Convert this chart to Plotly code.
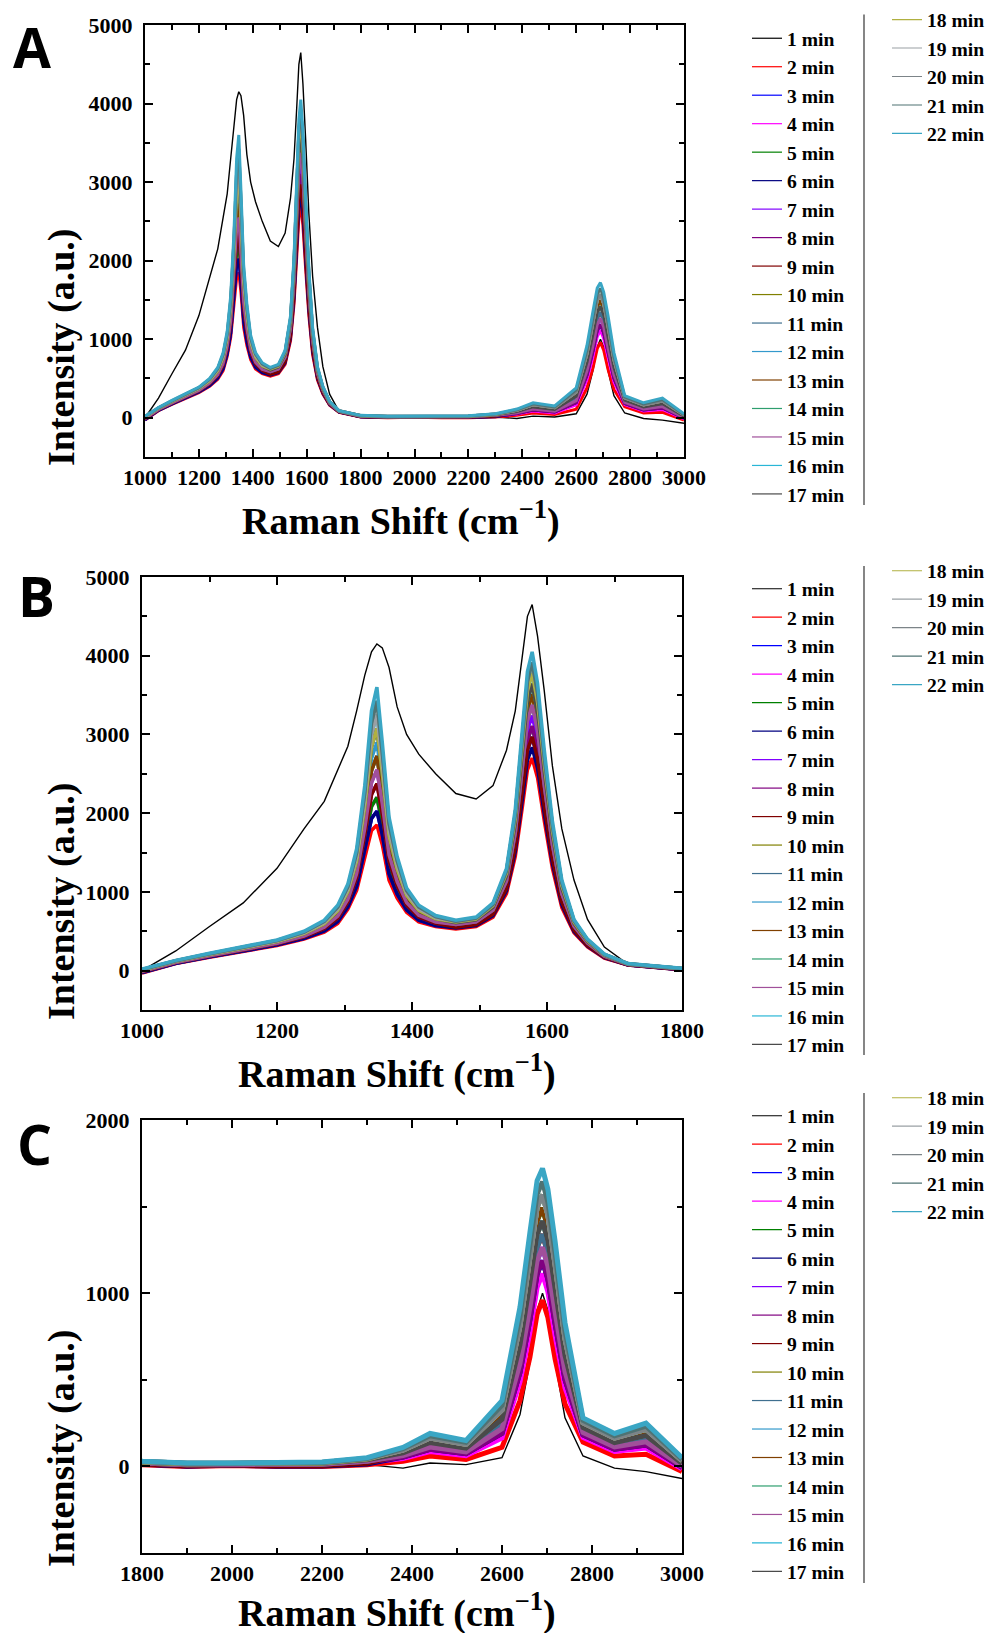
import plotly.graph_objects as go

# ---------------- data ----------------
wavenumber = [1000, 1050, 1100, 1150, 1200, 1240, 1270, 1290, 1305, 1318, 1330, 1340, 1348, 1356, 1366, 1378, 1392, 1410, 1435,
              1465, 1495, 1520, 1540, 1553, 1563, 1571, 1578, 1586, 1596, 1608, 1622, 1640, 1660, 1685, 1720, 1800, 1900, 2000, 2100, 2200, 2300,
              2380, 2440, 2520, 2600, 2640, 2662, 2678, 2690, 2702, 2718, 2740, 2780, 2850, 2920, 3000]

int_01 = [0, 250, 560, 860, 1300, 1800, 2150, 2550, 2850, 3300, 3750, 4050, 4150, 4100, 3850, 3350, 3000, 2750, 2500,
          2250, 2180, 2350, 2800, 3300, 3950, 4500, 4650, 4250, 3550, 2600, 1800, 1150, 650, 300, 80, 10, 20, 20, 10, 20, 10,
          -10, 20, 10, 50, 300, 600, 900, 1000, 900, 600, 280, 60, -10, -30, -70]
int_02 = [-30, 90, 170, 240, 320, 400, 490, 600, 780, 1020, 1450, 1780, 1850, 1600, 1150, 920, 740, 620, 560,
          530, 560, 680, 980, 1450, 2050, 2550, 2700, 2450, 1900, 1300, 800, 480, 300, 160, 70, 10, 0, 5, 0, 0, 10,
          30, 60, 40, 110, 380, 630, 880, 960, 860, 620, 360, 140, 60, 70, -30]
int_03 = [-25, 94, 175, 246, 327, 410, 505, 623, 812, 1073, 1540, 1932, 2025, 1730, 1230, 973, 771, 641, 574,
          552, 584, 716, 1044, 1570, 2240, 2800, 2970, 2690, 2080, 1420, 870, 514, 320, 170, 74, 14, 4, 8, 4, 5, 18,
          54, 99, 73, 191, 542, 846, 1111, 1188, 1082, 824, 501, 182, 99, 124, -6]
int_04 = [-20, 98, 180, 252, 334, 420, 520, 646, 844, 1126, 1630, 2084, 2200, 1860, 1310, 1026, 802, 662, 588,
          563, 596, 734, 1076, 1630, 2335, 2925, 3105, 2810, 2170, 1480, 905, 531, 330, 175, 76, 16, 6, 10, 6, 8, 22,
          46, 86, 62, 164, 488, 774, 1034, 1112, 1008, 756, 454, 168, 86, 106, -14]
int_05 = [-20, 98, 180, 252, 334, 420, 520, 646, 844, 1126, 1630, 2084, 2200, 1860, 1310, 1026, 802, 662, 588,
          563, 596, 734, 1076, 1630, 2335, 2925, 3105, 2810, 2170, 1480, 905, 531, 330, 175, 76, 16, 6, 10, 6, 8, 22,
          86, 151, 117, 299, 758, 1134, 1419, 1492, 1378, 1096, 689, 238, 151, 196, 26]
int_06 = [-25, 94, 175, 246, 327, 410, 505, 623, 812, 1073, 1540, 1932, 2025, 1730, 1230, 973, 771, 641, 574,
          541, 572, 698, 1012, 1510, 2145, 2675, 2835, 2570, 1990, 1360, 835, 497, 310, 165, 72, 12, 2, 6, 2, 2, 14,
          54, 99, 73, 191, 542, 846, 1111, 1188, 1082, 824, 501, 182, 99, 124, -6]
int_07 = [-10, 106, 190, 264, 348, 440, 550, 692, 908, 1232, 1810, 2388, 2550, 2120, 1470, 1132, 864, 704, 616,
          574, 608, 752, 1108, 1690, 2430, 3050, 3240, 2930, 2260, 1540, 940, 548, 340, 180, 78, 18, 8, 11, 8, 10, 26,
          62, 112, 84, 218, 596, 918, 1188, 1264, 1156, 892, 548, 196, 112, 142, 2]
int_08 = [-15, 102, 185, 258, 341, 430, 535, 669, 876, 1179, 1720, 2236, 2375, 1990, 1390, 1079, 833, 683, 602,
          563, 596, 734, 1076, 1630, 2335, 2925, 3105, 2810, 2170, 1480, 905, 531, 330, 175, 76, 16, 6, 10, 6, 8, 22,
          54, 99, 73, 191, 542, 846, 1111, 1188, 1082, 824, 501, 182, 99, 124, -6]
int_09 = [-15, 102, 185, 258, 341, 430, 535, 669, 876, 1179, 1720, 2236, 2375, 1990, 1390, 1079, 833, 683, 602,
          552, 584, 716, 1044, 1570, 2240, 2800, 2970, 2690, 2080, 1420, 870, 514, 320, 170, 74, 14, 4, 8, 4, 5, 18,
          70, 125, 95, 245, 650, 990, 1265, 1340, 1230, 960, 595, 210, 125, 160, 10]
int_10 = [-5, 110, 195, 270, 355, 450, 565, 715, 940, 1285, 1900, 2540, 2725, 2250, 1550, 1185, 895, 725, 630,
          596, 632, 788, 1172, 1810, 2620, 3300, 3510, 3170, 2440, 1660, 1010, 582, 360, 190, 82, 22, 12, 14, 12, 15, 34,
          78, 138, 106, 272, 704, 1062, 1342, 1416, 1304, 1028, 642, 224, 138, 178, 18]
int_11 = [-5, 110, 195, 270, 355, 450, 565, 715, 940, 1285, 1900, 2540, 2725, 2250, 1550, 1185, 895, 725, 630,
          585, 620, 770, 1140, 1750, 2525, 3175, 3375, 3050, 2350, 1600, 975, 565, 350, 185, 80, 20, 10, 12, 10, 12, 30,
          70, 125, 95, 245, 650, 990, 1265, 1340, 1230, 960, 595, 210, 125, 160, 10]
int_12 = [0, 114, 200, 276, 362, 460, 580, 738, 972, 1338, 1990, 2692, 2900, 2380, 1630, 1238, 926, 746, 644,
          607, 644, 806, 1204, 1870, 2715, 3425, 3645, 3290, 2530, 1720, 1045, 599, 370, 195, 84, 24, 14, 16, 14, 18, 38,
          78, 138, 106, 272, 704, 1062, 1342, 1416, 1304, 1028, 642, 224, 138, 178, 18]
int_13 = [-5, 110, 195, 270, 355, 450, 565, 715, 940, 1285, 1900, 2540, 2725, 2250, 1550, 1185, 895, 725, 630,
          596, 632, 788, 1172, 1810, 2620, 3300, 3510, 3170, 2440, 1660, 1010, 582, 360, 190, 82, 22, 12, 14, 12, 15, 34,
          86, 151, 117, 299, 758, 1134, 1419, 1492, 1378, 1096, 689, 238, 151, 196, 26]
int_14 = [5, 118, 205, 282, 369, 470, 595, 761, 1004, 1391, 2080, 2844, 3075, 2510, 1710, 1291, 957, 767, 658,
          607, 644, 806, 1204, 1870, 2715, 3425, 3645, 3290, 2530, 1720, 1045, 599, 370, 195, 84, 24, 14, 16, 14, 18, 38,
          94, 164, 128, 326, 812, 1206, 1496, 1568, 1452, 1164, 736, 252, 164, 214, 34]
int_15 = [-10, 106, 190, 264, 348, 440, 550, 692, 908, 1232, 1810, 2388, 2550, 2120, 1470, 1132, 864, 704, 616,
          585, 620, 770, 1140, 1750, 2525, 3175, 3375, 3050, 2350, 1600, 975, 565, 350, 185, 80, 20, 10, 12, 10, 12, 30,
          62, 112, 84, 218, 596, 918, 1188, 1264, 1156, 892, 548, 196, 112, 142, 2]
int_16 = [10, 122, 210, 288, 376, 480, 610, 784, 1036, 1444, 2170, 2996, 3250, 2640, 1790, 1344, 988, 788, 672,
          618, 656, 824, 1236, 1930, 2810, 3550, 3780, 3410, 2620, 1780, 1080, 616, 380, 200, 86, 26, 16, 17, 16, 20, 42,
          94, 164, 128, 326, 812, 1206, 1496, 1568, 1452, 1164, 736, 252, 164, 214, 34]
int_17 = [5, 118, 205, 282, 369, 470, 595, 761, 1004, 1391, 2080, 2844, 3075, 2510, 1710, 1291, 957, 767, 658,
          607, 644, 806, 1204, 1870, 2715, 3425, 3645, 3290, 2530, 1720, 1045, 599, 370, 195, 84, 24, 14, 16, 14, 18, 38,
          78, 138, 106, 272, 704, 1062, 1342, 1416, 1304, 1028, 642, 224, 138, 178, 18]
int_18 = [5, 118, 205, 282, 369, 470, 595, 761, 1004, 1391, 2080, 2844, 3075, 2510, 1710, 1291, 957, 767, 658,
          618, 656, 824, 1236, 1930, 2810, 3550, 3780, 3410, 2620, 1780, 1080, 616, 380, 200, 86, 26, 16, 17, 16, 20, 42,
          94, 164, 128, 326, 812, 1206, 1496, 1568, 1452, 1164, 736, 252, 164, 214, 34]
int_19 = [10, 122, 210, 288, 376, 480, 610, 784, 1036, 1444, 2170, 2996, 3250, 2640, 1790, 1344, 988, 788, 672,
          629, 668, 842, 1268, 1990, 2905, 3675, 3915, 3530, 2710, 1840, 1115, 633, 390, 205, 88, 28, 18, 18, 18, 22, 46,
          94, 164, 128, 326, 812, 1206, 1496, 1568, 1452, 1164, 736, 252, 164, 214, 34]
int_20 = [15, 126, 215, 294, 383, 490, 625, 807, 1068, 1497, 2260, 3148, 3425, 2770, 1870, 1397, 1019, 809, 686,
          629, 668, 842, 1268, 1990, 2905, 3675, 3915, 3530, 2710, 1840, 1115, 633, 390, 205, 88, 28, 18, 18, 18, 22, 46,
          94, 164, 128, 326, 812, 1206, 1496, 1568, 1452, 1164, 736, 252, 164, 214, 34]
int_21 = [15, 126, 215, 294, 383, 490, 625, 807, 1068, 1497, 2260, 3148, 3425, 2770, 1870, 1397, 1019, 809, 686,
          629, 668, 842, 1268, 1990, 2905, 3675, 3915, 3530, 2710, 1840, 1115, 633, 390, 205, 88, 28, 18, 18, 18, 22, 46,
          102, 177, 139, 353, 866, 1278, 1573, 1644, 1526, 1232, 783, 266, 177, 232, 42]
int_22 = [20, 130, 220, 300, 390, 500, 640, 830, 1100, 1550, 2350, 3300, 3600, 2900, 1950, 1450, 1050, 830, 700,
          640, 680, 860, 1300, 2050, 3000, 3800, 4050, 3650, 2800, 1900, 1150, 650, 400, 210, 90, 30, 20, 20, 20, 25, 50,
          110, 190, 150, 380, 920, 1350, 1650, 1720, 1600, 1300, 830, 280, 190, 250, 50]

series = [int_01, int_02, int_03, int_04, int_05, int_06, int_07, int_08, int_09, int_10, int_11,
          int_12, int_13, int_14, int_15, int_16, int_17, int_18, int_19, int_20, int_21, int_22]
labels = [f"{i} min" for i in range(1, 23)]
colors = ["#000000", "#ff0000", "#0000ff", "#ff00ff", "#008000", "#000080", "#8000ff", "#800080",
          "#800000", "#808000", "#3f6f8f", "#3399cc", "#804000", "#2e9e6e", "#a0509a", "#29b6d6",
          "#4a4a4a", "#b0b040", "#9aa0a4", "#7c8488", "#4f7373", "#3aa6c4"]

x_ticks_A = [1000, 1200, 1400, 1600, 1800, 2000, 2200, 2400, 2600, 2800, 3000]
x_ticks_B = [1000, 1200, 1400, 1600, 1800]
x_ticks_C = [1800, 2000, 2200, 2400, 2600, 2800, 3000]
y_ticks_AB = [0, 1000, 2000, 3000, 4000, 5000]
y_ticks_C = [0, 1000, 2000]

# ---------------- figure ----------------
# the page body has an 8px margin, so the figure is 8px smaller than the window
OFF = 8
W, H = 997 - OFF, 1633 - OFF


def fx(px):
    return (px - OFF) / W


def fy(py):
    return 1 - (py - OFF) / H


fig = go.Figure()

panels = [
    dict(xa="x", ya="y", xname="xaxis", yname="yaxis", xr=[1000, 3000], yr=[-500, 5000], lw=3,
         xd=[fx(145), fx(684)], yd=[fy(457), fy(25)], xt=x_ticks_A, yt=y_ticks_AB,
         legs=("legend", "legend2")),
    dict(xa="x2", ya="y2", xname="xaxis2", yname="yaxis2", xr=[1000, 1800], yr=[-500, 5000], lw=3.5,
         xd=[fx(142), fx(682)], yd=[fy(1010), fy(577)], xt=x_ticks_B, yt=y_ticks_AB,
         legs=("legend3", "legend4")),
    dict(xa="x3", ya="y3", xname="xaxis3", yname="yaxis3", xr=[1800, 3000], yr=[-500, 2000], lw=5,
         xd=[fx(142), fx(682)], yd=[fy(1553), fy(1120)], xt=x_ticks_C, yt=y_ticks_C,
         legs=("legend5", "legend6")),
]

tickfont = dict(family="Liberation Serif", size=22, color="black", weight="bold")

for p in panels:
    for i, (lab, col, vals) in enumerate(zip(labels, colors, series)):
        fig.add_trace(go.Scatter(
            x=wavenumber, y=vals, mode="lines", name=lab,
            line=dict(color=col, width=1.4 if i == 0 else p["lw"]),
            xaxis=p["xa"], yaxis=p["ya"], showlegend=False, hoverinfo="skip"))
    for i, (lab, col) in enumerate(zip(labels, colors)):
        fig.add_trace(go.Scatter(
            x=[None], y=[None], mode="lines", name=lab,
            line=dict(color=col, width=1.2),
            xaxis=p["xa"], yaxis=p["ya"], showlegend=True,
            legend=p["legs"][0] if i < 17 else p["legs"][1]))

    common = dict(showline=True, linecolor="black", linewidth=2, mirror="allticks",
                  ticks="inside", ticklen=8, tickwidth=2, tickcolor="black",
                  showgrid=False, zeroline=False, tickfont=tickfont)
    fig.update_layout(**{
        p["xname"]: dict(domain=p["xd"], range=p["xr"], anchor=p["ya"], tickmode="array",
                         tickvals=p["xt"], ticktext=[str(v) for v in p["xt"]],
                         minor=dict(ticks="inside", ticklen=5, tickwidth=1.5, tickcolor="black", dtick=100,
                                    tick0=1000, showgrid=False),
                         ticklabelstandoff=0, **common),
        p["yname"]: dict(domain=p["yd"], range=p["yr"], anchor=p["xa"], tickmode="array",
                         tickvals=p["yt"], ticktext=[str(v) for v in p["yt"]],
                         minor=dict(ticks="inside", ticklen=5, tickwidth=1.5, tickcolor="black", dtick=500,
                                    tick0=0, showgrid=False),
                         ticklabelstandoff=6, **common),
    })

legfont = dict(family="Liberation Serif", size=19.6, color="black", weight="bold")
leg_common = dict(font=legfont, bgcolor="rgba(0,0,0,0)", borderwidth=0, xanchor="left", yanchor="top",
                  itemwidth=30, tracegroupgap=0, traceorder="normal")
col1_x, col2_x = fx(747), fx(887)
legend_tops = {"legend": (col1_x, 19), "legend2": (col2_x, 0.3),
               "legend3": (col1_x, 569.5), "legend4": (col2_x, 551.5),
               "legend5": (col1_x, 1096.5), "legend6": (col2_x, 1078.5)}
fig.update_layout(**{k: dict(x=v[0], y=fy(v[1]), **leg_common) for k, v in legend_tops.items()})

# separators between the two legend columns
for y0, y1 in [(14.6, 505), (566, 1055), (1093, 1583)]:
    fig.add_shape(type="line", xref="paper", yref="paper", x0=fx(864), x1=fx(864),
                  y0=fy(y0), y1=fy(y1), line=dict(color="#444444", width=1.3))

title_font = dict(family="Liberation Serif", size=38, color="black", weight="bold")
annotations = []
for (cx, cy) in [(401, 518), (397, 1071), (397, 1610)]:
    annotations.append(dict(text="Raman Shift (cm<sup>\u22121</sup>)", x=fx(cx), y=fy(cy),
                            xref="paper", yref="paper", xanchor="center", yanchor="middle",
                            showarrow=False, font=title_font))
for cy in [347, 901, 1448]:
    annotations.append(dict(text="Intensity (a.u.)", x=fx(61), y=fy(cy), textangle=-90,
                            xref="paper", yref="paper", xanchor="center", yanchor="middle",
                            showarrow=False, font=title_font))
for letter, cx, cy in [("A", 32, 46.5), ("B", 36, 595), ("C", 34, 1143)]:
    annotations.append(dict(text=letter, x=fx(cx), y=fy(cy), xref="paper", yref="paper",
                            xanchor="center", yanchor="middle", showarrow=False,
                            font=dict(family="Open Sans", size=55, color="black", weight="bold")))

fig.update_layout(width=W, height=H, margin=dict(l=0, r=0, t=0, b=0, autoexpand=False),
                  plot_bgcolor="white", paper_bgcolor="white", annotations=annotations,
                  hovermode=False)

fig.write_html("out.html")
